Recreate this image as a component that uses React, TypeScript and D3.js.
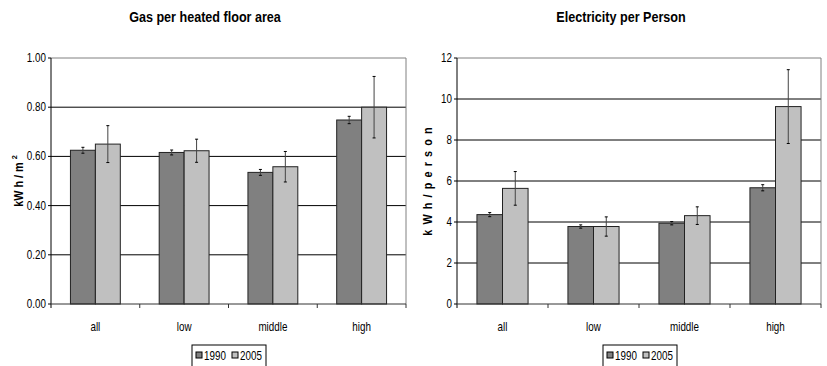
import { useRef, useEffect } from 'react';
import * as d3 from 'd3';

const categories = ['all', 'low', 'middle', 'high'];
const years = ['1990', '2005'];

const gas1990 = [0.625, 0.616, 0.535, 0.748];
const gas2005 = [0.65, 0.623, 0.558, 0.8];
const gasErr1990 = [0.012, 0.01, 0.012, 0.015];
const gasErr2005 = [0.075, 0.047, 0.062, 0.125];
const gasTicks = [0, 0.2, 0.4, 0.6, 0.8, 1.0];

const elec1990 = [4.36, 3.78, 3.94, 5.67];
const elec2005 = [5.64, 3.78, 4.31, 9.63];
const elecErr1990 = [0.1, 0.08, 0.08, 0.15];
const elecErr2005 = [0.82, 0.47, 0.43, 1.8];
const elecTicks = [0, 2, 4, 6, 8, 10, 12];

const FONT = "'Liberation Sans', Arial, sans-serif";
const colors = ['#808080', '#c0c0c0'];
const SX = 0.82; // сжатие шрифта по горизонтали (как Arial Narrow)

// текст с горизонтальным сжатием
function label(g, x, y, str, { size = 12, weight = 'normal', anchor = 'start', sx = SX } = {}) {
  return g.append('text')
    .attr('transform', `translate(${x},${y}) scale(${sx},1)`)
    .attr('text-anchor', anchor)
    .attr('font-family', FONT).attr('font-size', size).attr('font-weight', weight)
    .attr('fill', '#000')
    .text(str);
}

function drawPanel(svg, opt) {
  const { left, right, top, bottom, title, titleX, ticks, fmt, max, values, errors, ylabel, ylabelX, legendX } = opt;
  const g = svg.append('g');

  const x = d3.scaleBand().domain(categories).range([left, right]).paddingInner(0).paddingOuter(0);
  const xi = d3.scaleBand().domain(years).range([0, x.bandwidth()]).paddingInner(0).paddingOuter(0.78);
  const y = d3.scaleLinear().domain([0, max]).range([bottom, top]);

  // заголовок
  label(g, titleX, 22, title, { size: 14, weight: 'bold', anchor: 'middle', sx: 0.9 });

  // сетка
  g.selectAll('.grid')
    .data(ticks.filter(t => t > 0 && t < max))
    .enter().append('line')
    .attr('x1', left).attr('x2', right)
    .attr('y1', d => y(d)).attr('y2', d => y(d))
    .attr('stroke', '#000').attr('stroke-width', 1);

  // рамка сверху и справа
  g.append('path')
    .attr('d', `M${left},${y(max)}H${right}V${bottom}`)
    .attr('fill', 'none').attr('stroke', '#808080').attr('stroke-width', 1);

  // столбцы
  const series = [values[0], values[1]];
  series.forEach((vals, si) => {
    g.selectAll(`.bar${si}`)
      .data(categories)
      .enter().append('rect')
      .attr('x', d => x(d) + xi(years[si]))
      .attr('y', (d, i) => y(vals[i]))
      .attr('width', xi.bandwidth())
      .attr('height', (d, i) => bottom - y(vals[i]))
      .attr('fill', colors[si])
      .attr('stroke', '#222').attr('stroke-width', 1);
  });

  // погрешности
  series.forEach((vals, si) => {
    const err = errors[si];
    categories.forEach((c, i) => {
      const cx = x(c) + xi(years[si]) + xi.bandwidth() / 2;
      const y1 = y(vals[i] + err[i]);
      const y2 = y(vals[i] - err[i]);
      g.append('line').attr('x1', cx).attr('x2', cx).attr('y1', y1).attr('y2', y2)
        .attr('stroke', '#444').attr('stroke-width', 1);
      [y1, y2].forEach(yy => {
        g.append('line').attr('x1', cx - 1.5).attr('x2', cx + 1.5).attr('y1', yy).attr('y2', yy)
          .attr('stroke', '#000').attr('stroke-width', 1);
      });
    });
  });

  // ось Y
  g.append('line').attr('x1', left).attr('x2', left).attr('y1', top).attr('y2', bottom + 4)
    .attr('stroke', '#000');
  g.selectAll('.yt').data(ticks).enter().append('line')
    .attr('x1', left - 3).attr('x2', left).attr('y1', d => y(d)).attr('y2', d => y(d))
    .attr('stroke', '#000');
  ticks.forEach(t => label(g, left - 5, y(t) + 4, fmt(t), { anchor: 'end' }));

  // ось X
  g.append('line').attr('x1', left).attr('x2', right).attr('y1', bottom).attr('y2', bottom)
    .attr('stroke', '#333');
  const bounds = categories.map(c => x(c) + x.bandwidth());
  g.selectAll('.xt').data(bounds).enter().append('line')
    .attr('x1', d => d).attr('x2', d => d).attr('y1', bottom).attr('y2', bottom + 4)
    .attr('stroke', '#333');
  categories.forEach(c => label(g, x(c) + x.bandwidth() / 2, bottom + 27, c, { anchor: 'middle' }));

  // подпись оси Y
  const midY = (top + bottom) / 2;
  const yl = g.append('text')
    .attr('transform', `translate(${ylabelX},${midY}) rotate(-90) scale(0.9,1)`)
    .attr('text-anchor', 'middle')
    .attr('font-family', FONT).attr('font-weight', 'bold').attr('font-size', 12);
  ylabel(yl);

  // легенда
  const lg = g.append('g').attr('transform', `translate(${legendX},${345})`);
  lg.append('rect').attr('width', 74).attr('height', 22)
    .attr('fill', '#fff').attr('stroke', '#000');
  years.forEach((yr, i) => {
    const ox = 4 + i * 36;
    lg.append('rect').attr('x', ox).attr('y', 7).attr('width', 6).attr('height', 6)
      .attr('fill', colors[i]).attr('stroke', '#000');
    label(lg, ox + 8, 15, yr);
  });
}

export default function App() {
  const svgRef = useRef(null);

  useEffect(() => {
    const svg = d3.select(svgRef.current).html('');
    svg.append('rect').attr('width', 827).attr('height', 366).attr('fill', '#fff');

    drawPanel(svg, {
      left: 51, right: 406, top: 58, bottom: 304,
      title: 'Gas per heated floor area', titleX: 205,
      ticks: gasTicks, fmt: d3.format('.2f'), max: 1.0,
      values: [gas1990, gas2005], errors: [gasErr1990, gasErr2005],
      ylabelX: 23, legendX: 192,
      ylabel: t => {
        t.append('tspan').text('kW h / m ');
        t.append('tspan').attr('dy', -6).attr('font-size', 8).text('2');
      }
    });

    drawPanel(svg, {
      left: 457, right: 821, top: 58, bottom: 304,
      title: 'Electricity per Person', titleX: 621,
      ticks: elecTicks, fmt: d3.format('d'), max: 12,
      values: [elec1990, elec2005], errors: [elecErr1990, elecErr2005],
      ylabelX: 432, legendX: 603,
      ylabel: t => {
        t.attr('letter-spacing', 1.2).text('k W h / p e r s o n');
      }
    });
  }, []);

  return (
    <svg ref={svgRef} width={827} height={366}
      style={{ position: 'absolute', left: 0, top: 0 }} />
  );
}
